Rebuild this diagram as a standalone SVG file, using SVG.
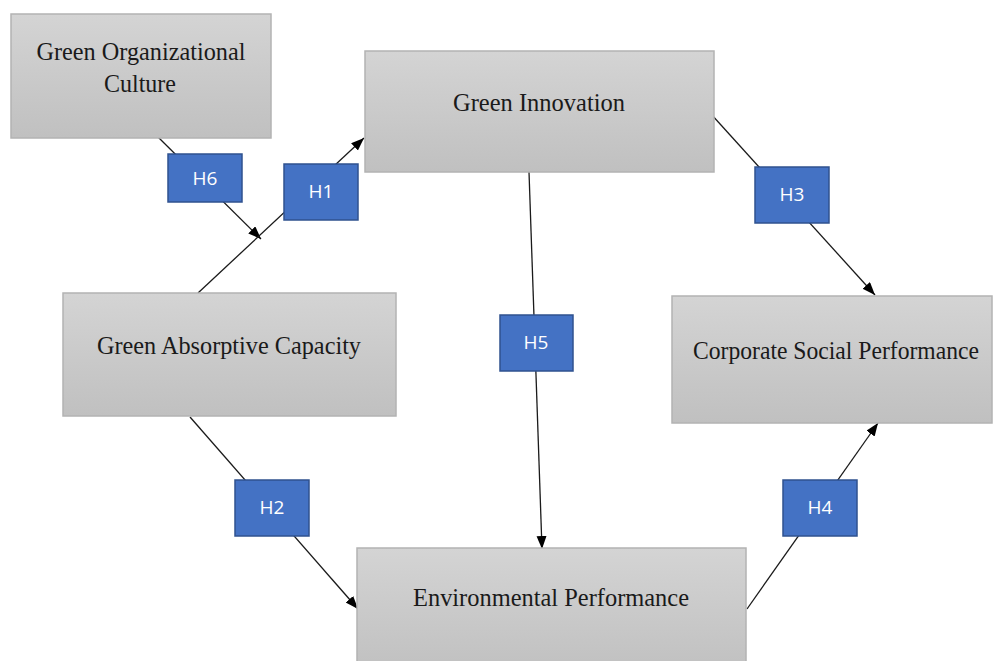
<svg xmlns="http://www.w3.org/2000/svg" width="993" height="661" viewBox="0 0 993 661">
<defs>
<linearGradient id="g" x1="0" y1="0" x2="0" y2="1">
<stop offset="0" stop-color="#d4d4d4"/>
<stop offset="1" stop-color="#c0c0c0"/>
</linearGradient>
<marker id="ah" markerUnits="userSpaceOnUse" markerWidth="14" markerHeight="12" refX="13" refY="5" orient="auto">
<path d="M0,0 L13,5 L0,10 Z" fill="#000"/>
</marker>
<style>
.box{fill:url(#g);stroke:#b3b3b3;stroke-width:1.5}
.t{font-family:"Liberation Serif","Times New Roman",serif;font-size:26px;fill:#1a1a1a;text-anchor:middle}
.lab{fill:#4472c4;stroke:#2f528f;stroke-width:1.5}
.lt{font-family:"Open Sans","Liberation Sans",sans-serif;font-size:19px;fill:#fff;text-anchor:middle}
.c{stroke:#1a1a1a;stroke-width:1.3;fill:none}
</style>
</defs>
<rect width="993" height="661" fill="#fff"/>
<g id="connectors">
<line class="c" x1="158" y1="137" x2="261" y2="239" marker-end="url(#ah)"/>
<line class="c" x1="198" y1="293" x2="364" y2="138" marker-end="url(#ah)"/>
<line class="c" x1="711" y1="114" x2="875" y2="295" marker-end="url(#ah)"/>
<line class="c" x1="529" y1="172" x2="542" y2="549" marker-end="url(#ah)"/>
<line class="c" x1="190" y1="417" x2="358" y2="609" marker-end="url(#ah)"/>
<line class="c" x1="747" y1="609" x2="878" y2="423" marker-end="url(#ah)"/>
</g>
<g id="goc">
<rect class="box" x="11" y="14" width="260" height="124"/>
<text class="t" x="141" y="60" textLength="209" lengthAdjust="spacingAndGlyphs">Green Organizational</text>
<text class="t" x="140" y="92" textLength="72" lengthAdjust="spacingAndGlyphs">Culture</text>
</g>
<g id="gi">
<rect class="box" x="365" y="51" width="349" height="121"/>
<text class="t" x="539" y="111" textLength="172" lengthAdjust="spacingAndGlyphs">Green Innovation</text>
</g>
<g id="gac">
<rect class="box" x="63" y="293" width="333" height="123"/>
<text class="t" x="229" y="354" textLength="264" lengthAdjust="spacingAndGlyphs">Green Absorptive Capacity</text>
</g>
<g id="csp">
<rect class="box" x="672" y="296" width="320" height="127"/>
<text class="t" x="836" y="359" font-size="25" textLength="286" lengthAdjust="spacingAndGlyphs">Corporate Social Performance</text>
</g>
<g id="ep">
<rect class="box" x="357" y="548" width="389" height="125"/>
<text class="t" x="551" y="606" textLength="276" lengthAdjust="spacingAndGlyphs">Environmental Performance</text>
</g>
<g id="h6"><rect class="lab" x="168" y="154" width="74" height="48"/><text class="lt" x="205" y="185">H6</text></g>
<g id="h1"><rect class="lab" x="284" y="164" width="74" height="56"/><text class="lt" x="321" y="198">H1</text></g>
<g id="h3"><rect class="lab" x="755" y="167" width="74" height="56"/><text class="lt" x="792" y="201">H3</text></g>
<g id="h5"><rect class="lab" x="500" y="315" width="73" height="56"/><text class="lt" x="536" y="349">H5</text></g>
<g id="h2"><rect class="lab" x="235" y="480" width="74" height="56"/><text class="lt" x="272" y="514">H2</text></g>
<g id="h4"><rect class="lab" x="783" y="480" width="74" height="56"/><text class="lt" x="820" y="514">H4</text></g>
</svg>
